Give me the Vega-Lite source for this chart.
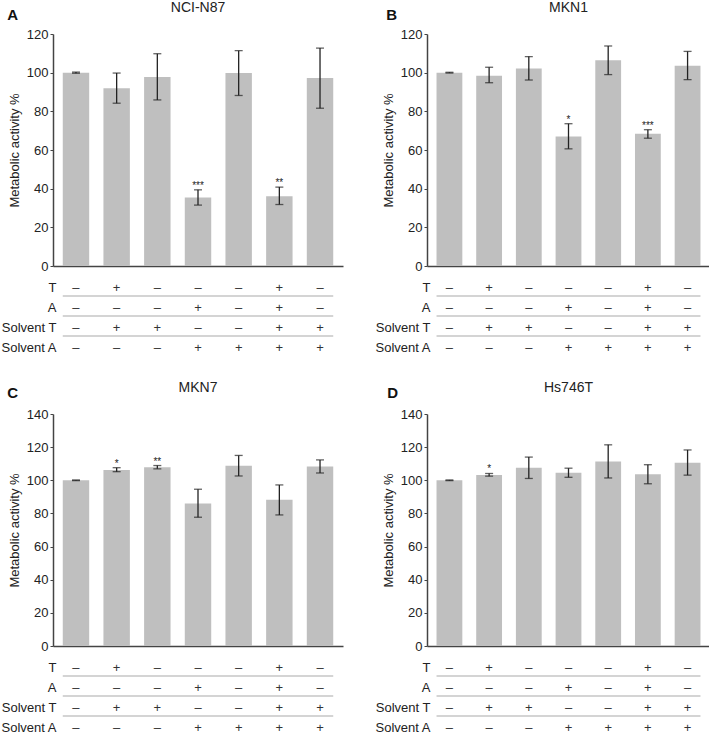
{
  "$schema": "https://vega.github.io/schema/vega-lite/v6.json",
  "padding": {"left": 0, "top": 1, "right": 0, "bottom": 0},
  "config": {
    "font": "Liberation Sans",
    "view": {"stroke": null},
    "axis": {"labelFont": "Liberation Sans", "titleFont": "Liberation Sans"},
    "axisY": {"grid": false, "tickSize": 3, "labelPadding": 2, "domainColor": "#444", "tickColor": "#444", "domainWidth": 1.5, "titlePadding": 5, "labelFontSize": 13, "titleFontSize": 13, "titleFontWeight": "normal", "labelColor": "#222", "titleColor": "#222", "labelOverlap": false}
  },
  "datasets": {
    "bars": [
      {"panel": "A", "c": "c1", "mean": 100, "lo": 99.7, "hi": 100.3, "sig": ""},
      {"panel": "A", "c": "c2", "mean": 92, "lo": 84.2, "hi": 99.8, "sig": ""},
      {"panel": "A", "c": "c3", "mean": 97.8, "lo": 85.9, "hi": 109.8, "sig": ""},
      {"panel": "A", "c": "c4", "mean": 35.4, "lo": 31.5, "hi": 39.4, "sig": "***"},
      {"panel": "A", "c": "c5", "mean": 99.8, "lo": 88.2, "hi": 111.4, "sig": ""},
      {"panel": "A", "c": "c6", "mean": 36.1, "lo": 31.8, "hi": 40.8, "sig": "**"},
      {"panel": "A", "c": "c7", "mean": 97.2, "lo": 81.6, "hi": 112.7, "sig": ""},
      {"panel": "B", "c": "c1", "mean": 100, "lo": 99.8, "hi": 100.2, "sig": ""},
      {"panel": "B", "c": "c2", "mean": 98.4, "lo": 94.8, "hi": 102.8, "sig": ""},
      {"panel": "B", "c": "c3", "mean": 102.1, "lo": 96.2, "hi": 108.3, "sig": ""},
      {"panel": "B", "c": "c4", "mean": 67.0, "lo": 60.6, "hi": 73.6, "sig": "*"},
      {"panel": "B", "c": "c5", "mean": 106.4, "lo": 99, "hi": 113.8, "sig": ""},
      {"panel": "B", "c": "c6", "mean": 68.4, "lo": 66.1, "hi": 70.5, "sig": "***"},
      {"panel": "B", "c": "c7", "mean": 103.6, "lo": 96.4, "hi": 111, "sig": ""},
      {"panel": "C", "c": "c1", "mean": 100, "lo": 99.8, "hi": 100.2, "sig": ""},
      {"panel": "C", "c": "c2", "mean": 106.2, "lo": 105.2, "hi": 107.6, "sig": "*"},
      {"panel": "C", "c": "c3", "mean": 107.9, "lo": 106.9, "hi": 108.9, "sig": "**"},
      {"panel": "C", "c": "c4", "mean": 86, "lo": 77.7, "hi": 94.6, "sig": ""},
      {"panel": "C", "c": "c5", "mean": 108.7, "lo": 102.6, "hi": 115, "sig": ""},
      {"panel": "C", "c": "c6", "mean": 88.2, "lo": 79.1, "hi": 97.2, "sig": ""},
      {"panel": "C", "c": "c7", "mean": 108.3, "lo": 104.4, "hi": 112.3, "sig": ""},
      {"panel": "D", "c": "c1", "mean": 100, "lo": 99.8, "hi": 100.2, "sig": ""},
      {"panel": "D", "c": "c2", "mean": 103.2, "lo": 102.5, "hi": 104.1, "sig": "*"},
      {"panel": "D", "c": "c3", "mean": 107.5, "lo": 101.1, "hi": 114, "sig": ""},
      {"panel": "D", "c": "c4", "mean": 104.5, "lo": 101.8, "hi": 107.3, "sig": ""},
      {"panel": "D", "c": "c5", "mean": 111.3, "lo": 101.4, "hi": 121.4, "sig": ""},
      {"panel": "D", "c": "c6", "mean": 103.6, "lo": 97.9, "hi": 109.4, "sig": ""},
      {"panel": "D", "c": "c7", "mean": 110.6, "lo": 103.1, "hi": 118.3, "sig": ""}
    ],
    "table": [
      {"c": "c1", "row": "T", "s": "–"}, {"c": "c1", "row": "A", "s": "–"}, {"c": "c1", "row": "Solvent T", "s": "–"}, {"c": "c1", "row": "Solvent A", "s": "–"},
      {"c": "c2", "row": "T", "s": "+"}, {"c": "c2", "row": "A", "s": "–"}, {"c": "c2", "row": "Solvent T", "s": "+"}, {"c": "c2", "row": "Solvent A", "s": "–"},
      {"c": "c3", "row": "T", "s": "–"}, {"c": "c3", "row": "A", "s": "–"}, {"c": "c3", "row": "Solvent T", "s": "+"}, {"c": "c3", "row": "Solvent A", "s": "–"},
      {"c": "c4", "row": "T", "s": "–"}, {"c": "c4", "row": "A", "s": "+"}, {"c": "c4", "row": "Solvent T", "s": "–"}, {"c": "c4", "row": "Solvent A", "s": "+"},
      {"c": "c5", "row": "T", "s": "–"}, {"c": "c5", "row": "A", "s": "–"}, {"c": "c5", "row": "Solvent T", "s": "–"}, {"c": "c5", "row": "Solvent A", "s": "+"},
      {"c": "c6", "row": "T", "s": "+"}, {"c": "c6", "row": "A", "s": "+"}, {"c": "c6", "row": "Solvent T", "s": "+"}, {"c": "c6", "row": "Solvent A", "s": "+"},
      {"c": "c7", "row": "T", "s": "–"}, {"c": "c7", "row": "A", "s": "–"}, {"c": "c7", "row": "Solvent T", "s": "+"}, {"c": "c7", "row": "Solvent A", "s": "+"}
    ],
    "seps": [
      {"after": "T", "from": "c1", "to": "c7"},
      {"after": "A", "from": "c1", "to": "c7"},
      {"after": "Solvent T", "from": "c1", "to": "c7"}
    ]
  },
  "spacing": 25,
  "vconcat": [
    {
      "spacing": 31,
      "hconcat": [
        {
          "title": {"text": "A", "anchor": "start", "frame": "bounds", "fontSize": 15, "fontWeight": "bold", "offset": -22, "dx": 7, "color": "#111"},
          "spacing": 3,
          "vconcat": [
            {
              "width": 290, "height": 232,
              "title": {"text": "NCI-N87", "fontSize": 14, "fontWeight": "normal", "offset": 13, "color": "#222"},
              "data": {"name": "bars"},
              "transform": [{"filter": "datum.panel == 'A'"}],
              "layer": [
                {"mark": {"type": "bar", "color": "#bfbfbf"},
                 "encoding": {
                   "x": {"field": "c", "type": "nominal", "scale": {"paddingInner": 0.35, "paddingOuter": 0.24}, "axis": {"labels": false, "ticks": false, "title": null, "domainColor": "#444", "domainWidth": 1.5}},
                   "y": {"field": "mean", "type": "quantitative", "scale": {"domain": [0, 120]}, "axis": {"title": "Metabolic activity %", "values": [0, 20, 40, 60, 80, 100, 120]}}
                 }},
                {"mark": {"type": "errorbar", "color": "#222", "thickness": 1.3, "ticks": {"size": 8, "thickness": 1.3}},
                 "encoding": {"x": {"field": "c", "type": "nominal"}, "y": {"field": "lo", "type": "quantitative", "axis": {"title": "Metabolic activity %", "values": [0, 20, 40, 60, 80, 100, 120]}}, "y2": {"field": "hi"}}},
                {"mark": {"type": "text", "fontSize": 10, "baseline": "alphabetic", "dy": -1, "color": "#222"},
                 "encoding": {"x": {"field": "c", "type": "nominal"}, "y": {"field": "hi", "type": "quantitative", "axis": {"title": "Metabolic activity %", "values": [0, 20, 40, 60, 80, 100, 120]}}, "text": {"field": "sig"}}}
              ]
            },
            {
              "width": 290, "height": 80,
              "layer": [
                {"data": {"name": "table"},
                 "mark": {"type": "text", "fontSize": 13, "color": "#333"},
                 "encoding": {
                   "x": {"field": "c", "type": "nominal", "scale": {"type": "band", "paddingInner": 0.35, "paddingOuter": 0.24}, "axis": null},
                   "y": {"field": "row", "type": "nominal", "scale": {"type": "band", "domain": ["T", "A", "Solvent T", "Solvent A"], "paddingInner": 0, "paddingOuter": 0}, "bandPosition": 0.6, "axis": {"title": null, "domain": false, "ticks": false, "tickSize": 0, "labelPadding": -3, "labelFontSize": 13, "labelColor": "#222", "labelOffset": 2}},
                   "text": {"field": "s"}
                 }},
                {"data": {"name": "seps"},
                 "mark": {"type": "rule", "color": "#aaa", "strokeWidth": 1.2},
                 "encoding": {
                   "x": {"field": "from", "type": "nominal", "bandPosition": 0},
                   "x2": {"field": "to", "bandPosition": 1},
                   "y": {"field": "after", "type": "nominal", "bandPosition": 1}
                 }}
              ]
            }
          ]
        },
        {
          "title": {"text": "B", "anchor": "start", "frame": "bounds", "fontSize": 15, "fontWeight": "bold", "offset": -22, "dx": 12, "color": "#111"},
          "spacing": 3,
          "vconcat": [
            {
              "width": 283, "height": 232,
              "title": {"text": "MKN1", "fontSize": 14, "fontWeight": "normal", "offset": 13, "color": "#222"},
              "data": {"name": "bars"},
              "transform": [{"filter": "datum.panel == 'B'"}],
              "layer": [
                {"mark": {"type": "bar", "color": "#bfbfbf"},
                 "encoding": {
                   "x": {"field": "c", "type": "nominal", "scale": {"paddingInner": 0.35, "paddingOuter": 0.24}, "axis": {"labels": false, "ticks": false, "title": null, "domainColor": "#444", "domainWidth": 1.5}},
                   "y": {"field": "mean", "type": "quantitative", "scale": {"domain": [0, 120]}, "axis": {"title": "Metabolic activity %", "values": [0, 20, 40, 60, 80, 100, 120]}}
                 }},
                {"mark": {"type": "errorbar", "color": "#222", "thickness": 1.3, "ticks": {"size": 8, "thickness": 1.3}},
                 "encoding": {"x": {"field": "c", "type": "nominal"}, "y": {"field": "lo", "type": "quantitative", "axis": {"title": "Metabolic activity %", "values": [0, 20, 40, 60, 80, 100, 120]}}, "y2": {"field": "hi"}}},
                {"mark": {"type": "text", "fontSize": 10, "baseline": "alphabetic", "dy": -1, "color": "#222"},
                 "encoding": {"x": {"field": "c", "type": "nominal"}, "y": {"field": "hi", "type": "quantitative", "axis": {"title": "Metabolic activity %", "values": [0, 20, 40, 60, 80, 100, 120]}}, "text": {"field": "sig"}}}
              ]
            },
            {
              "width": 283, "height": 80,
              "layer": [
                {"data": {"name": "table"},
                 "mark": {"type": "text", "fontSize": 13, "color": "#333"},
                 "encoding": {
                   "x": {"field": "c", "type": "nominal", "scale": {"type": "band", "paddingInner": 0.35, "paddingOuter": 0.24}, "axis": null},
                   "y": {"field": "row", "type": "nominal", "scale": {"type": "band", "domain": ["T", "A", "Solvent T", "Solvent A"], "paddingInner": 0, "paddingOuter": 0}, "bandPosition": 0.6, "axis": {"title": null, "domain": false, "ticks": false, "tickSize": 0, "labelPadding": -3, "labelFontSize": 13, "labelColor": "#222", "labelOffset": 2}},
                   "text": {"field": "s"}
                 }},
                {"data": {"name": "seps"},
                 "mark": {"type": "rule", "color": "#aaa", "strokeWidth": 1.2},
                 "encoding": {
                   "x": {"field": "from", "type": "nominal", "bandPosition": 0},
                   "x2": {"field": "to", "bandPosition": 1},
                   "y": {"field": "after", "type": "nominal", "bandPosition": 1}
                 }}
              ]
            }
          ]
        }
      ]
    },
    {
      "spacing": 31,
      "hconcat": [
        {
          "title": {"text": "C", "anchor": "start", "frame": "bounds", "fontSize": 15, "fontWeight": "bold", "offset": -20, "dx": 7, "color": "#111"},
          "spacing": 3,
          "vconcat": [
            {
              "width": 290, "height": 232,
              "title": {"text": "MKN7", "fontSize": 14, "fontWeight": "normal", "offset": 13, "color": "#222"},
              "data": {"name": "bars"},
              "transform": [{"filter": "datum.panel == 'C'"}],
              "layer": [
                {"mark": {"type": "bar", "color": "#bfbfbf"},
                 "encoding": {
                   "x": {"field": "c", "type": "nominal", "scale": {"paddingInner": 0.35, "paddingOuter": 0.24}, "axis": {"labels": false, "ticks": false, "title": null, "domainColor": "#444", "domainWidth": 1.5}},
                   "y": {"field": "mean", "type": "quantitative", "scale": {"domain": [0, 140]}, "axis": {"title": "Metabolic activity %", "values": [0, 20, 40, 60, 80, 100, 120, 140]}}
                 }},
                {"mark": {"type": "errorbar", "color": "#222", "thickness": 1.3, "ticks": {"size": 8, "thickness": 1.3}},
                 "encoding": {"x": {"field": "c", "type": "nominal"}, "y": {"field": "lo", "type": "quantitative", "axis": {"title": "Metabolic activity %", "values": [0, 20, 40, 60, 80, 100, 120, 140]}}, "y2": {"field": "hi"}}},
                {"mark": {"type": "text", "fontSize": 10, "baseline": "alphabetic", "dy": -1, "color": "#222"},
                 "encoding": {"x": {"field": "c", "type": "nominal"}, "y": {"field": "hi", "type": "quantitative", "axis": {"title": "Metabolic activity %", "values": [0, 20, 40, 60, 80, 100, 120, 140]}}, "text": {"field": "sig"}}}
              ]
            },
            {
              "width": 290, "height": 80,
              "layer": [
                {"data": {"name": "table"},
                 "mark": {"type": "text", "fontSize": 13, "color": "#333"},
                 "encoding": {
                   "x": {"field": "c", "type": "nominal", "scale": {"type": "band", "paddingInner": 0.35, "paddingOuter": 0.24}, "axis": null},
                   "y": {"field": "row", "type": "nominal", "scale": {"type": "band", "domain": ["T", "A", "Solvent T", "Solvent A"], "paddingInner": 0, "paddingOuter": 0}, "bandPosition": 0.6, "axis": {"title": null, "domain": false, "ticks": false, "tickSize": 0, "labelPadding": -3, "labelFontSize": 13, "labelColor": "#222", "labelOffset": 2}},
                   "text": {"field": "s"}
                 }},
                {"data": {"name": "seps"},
                 "mark": {"type": "rule", "color": "#aaa", "strokeWidth": 1.2},
                 "encoding": {
                   "x": {"field": "from", "type": "nominal", "bandPosition": 0},
                   "x2": {"field": "to", "bandPosition": 1},
                   "y": {"field": "after", "type": "nominal", "bandPosition": 1}
                 }}
              ]
            }
          ]
        },
        {
          "title": {"text": "D", "anchor": "start", "frame": "bounds", "fontSize": 15, "fontWeight": "bold", "offset": -20, "dx": 13, "color": "#111"},
          "spacing": 3,
          "vconcat": [
            {
              "width": 283, "height": 232,
              "title": {"text": "Hs746T", "fontSize": 14, "fontWeight": "normal", "offset": 13, "color": "#222"},
              "data": {"name": "bars"},
              "transform": [{"filter": "datum.panel == 'D'"}],
              "layer": [
                {"mark": {"type": "bar", "color": "#bfbfbf"},
                 "encoding": {
                   "x": {"field": "c", "type": "nominal", "scale": {"paddingInner": 0.35, "paddingOuter": 0.24}, "axis": {"labels": false, "ticks": false, "title": null, "domainColor": "#444", "domainWidth": 1.5}},
                   "y": {"field": "mean", "type": "quantitative", "scale": {"domain": [0, 140]}, "axis": {"title": "Metabolic activity %", "values": [0, 20, 40, 60, 80, 100, 120, 140]}}
                 }},
                {"mark": {"type": "errorbar", "color": "#222", "thickness": 1.3, "ticks": {"size": 8, "thickness": 1.3}},
                 "encoding": {"x": {"field": "c", "type": "nominal"}, "y": {"field": "lo", "type": "quantitative", "axis": {"title": "Metabolic activity %", "values": [0, 20, 40, 60, 80, 100, 120, 140]}}, "y2": {"field": "hi"}}},
                {"mark": {"type": "text", "fontSize": 10, "baseline": "alphabetic", "dy": -1, "color": "#222"},
                 "encoding": {"x": {"field": "c", "type": "nominal"}, "y": {"field": "hi", "type": "quantitative", "axis": {"title": "Metabolic activity %", "values": [0, 20, 40, 60, 80, 100, 120, 140]}}, "text": {"field": "sig"}}}
              ]
            },
            {
              "width": 283, "height": 80,
              "layer": [
                {"data": {"name": "table"},
                 "mark": {"type": "text", "fontSize": 13, "color": "#333"},
                 "encoding": {
                   "x": {"field": "c", "type": "nominal", "scale": {"type": "band", "paddingInner": 0.35, "paddingOuter": 0.24}, "axis": null},
                   "y": {"field": "row", "type": "nominal", "scale": {"type": "band", "domain": ["T", "A", "Solvent T", "Solvent A"], "paddingInner": 0, "paddingOuter": 0}, "bandPosition": 0.6, "axis": {"title": null, "domain": false, "ticks": false, "tickSize": 0, "labelPadding": -3, "labelFontSize": 13, "labelColor": "#222", "labelOffset": 2}},
                   "text": {"field": "s"}
                 }},
                {"data": {"name": "seps"},
                 "mark": {"type": "rule", "color": "#aaa", "strokeWidth": 1.2},
                 "encoding": {
                   "x": {"field": "from", "type": "nominal", "bandPosition": 0},
                   "x2": {"field": "to", "bandPosition": 1},
                   "y": {"field": "after", "type": "nominal", "bandPosition": 1}
                 }}
              ]
            }
          ]
        }
      ]
    }
  ]
}
